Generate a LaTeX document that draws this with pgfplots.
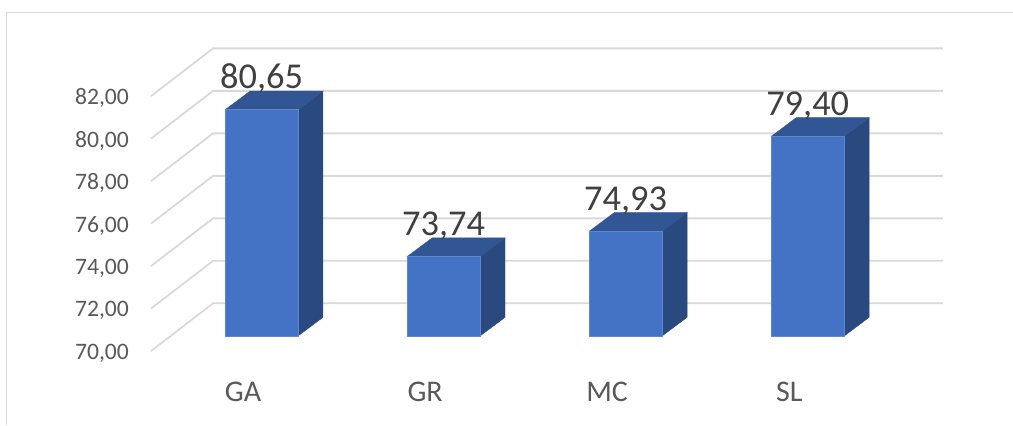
\documentclass[border=0pt]{standalone}
\usepackage{fontspec}
\setmainfont{Carlito}
\usepackage{pgfplots}
\pgfplotsset{compat=1.18}
\definecolor{gridGray}{HTML}{D9D9D9}
\definecolor{axisText}{HTML}{595959}
\definecolor{labelText}{HTML}{404040}
\definecolor{barFront}{HTML}{4472C4}
\definecolor{barSide}{HTML}{2A4A7F}
\definecolor{barTop}{HTML}{325694}
\pgfplotsset{
    wall/.style={draw=gridGray, line width=1.8pt, no marks, forget plot},
    front/.style={draw=barFront!85!white, line width=0.6pt, fill=barFront, no marks, forget plot},
    side/.style={draw=barSide, line width=0.4pt, fill=barSide, no marks, forget plot},
    top/.style={draw=barTop, line width=0.4pt, fill=barTop, no marks, forget plot},
}

\begin{document}
\begin{tikzpicture}
\begin{axis}[
    scale only axis,
    width=1013pt, height=425pt,
    xmin=-1.436, xmax=4.127,
    ymin=65.812, ymax=85.812,
    axis line style={draw=none},
    major tick length=0pt,
    xtick={0,1,2,3},
    xticklabels={GA,GR,MC,SL},
    ytick={70,72,74,76,78,80,82},
    /pgf/number format/.cd, assume math mode=true, use comma, fixed, fixed zerofill, precision=2,
    /pgfplots/.cd,
    xticklabel style={font=\fontsize{30}{36}\selectfont, text=axisText, inner sep=0pt,
        anchor=base, xshift=-18.5pt, yshift=24pt},
    yticklabel style={font=\fontsize{23.6}{28}\selectfont, text=axisText, inner sep=0pt,
        anchor=east, xshift=129pt, yshift=-17pt},
]
% outer frame of the chart area
\addplot[wall] coordinates {(-1.4003,65.812) (-1.4003,85.224) (4.127,85.224)};

% floor diagonal and back wall of each gridline
\addplot[wall] coordinates {(-0.6068,69.294) (-0.2663,71.539) (3.7424,71.539)};
\addplot[wall] coordinates {(-0.6068,71.294) (-0.2663,73.539) (3.7424,73.539)};
\addplot[wall] coordinates {(-0.6068,73.294) (-0.2663,75.539) (3.7424,75.539)};
\addplot[wall] coordinates {(-0.6068,75.294) (-0.2663,77.539) (3.7424,77.539)};
\addplot[wall] coordinates {(-0.6068,77.294) (-0.2663,79.539) (3.7424,79.539)};
\addplot[wall] coordinates {(-0.6068,79.294) (-0.2663,81.539) (3.7424,81.539)};
\addplot[wall] coordinates {(-0.6068,81.294) (-0.2663,83.539) (3.7424,83.539)};

% GA
\addplot[side] coordinates {(0.2,70) (0.3373,70.88) (0.3373,81.53) (0.2,80.65)} -- cycle;
\addplot[top] coordinates {(-0.2,80.65) (0.2,80.65) (0.3373,81.53) (-0.0627,81.53)} -- cycle;
\addplot[front] coordinates {(-0.2,70) (0.2,70) (0.2,80.65) (-0.2,80.65)} -- cycle;
% GR
\addplot[side] coordinates {(1.2,70) (1.3373,70.88) (1.3373,74.62) (1.2,73.74)} -- cycle;
\addplot[top] coordinates {(0.8,73.74) (1.2,73.74) (1.3373,74.62) (0.9373,74.62)} -- cycle;
\addplot[front] coordinates {(0.8,70) (1.2,70) (1.2,73.74) (0.8,73.74)} -- cycle;
% MC
\addplot[side] coordinates {(2.2,70) (2.3373,70.88) (2.3373,75.81) (2.2,74.93)} -- cycle;
\addplot[top] coordinates {(1.8,74.93) (2.2,74.93) (2.3373,75.81) (1.9373,75.81)} -- cycle;
\addplot[front] coordinates {(1.8,70) (2.2,70) (2.2,74.93) (1.8,74.93)} -- cycle;
% SL
\addplot[side] coordinates {(3.2,70) (3.3373,70.88) (3.3373,80.28) (3.2,79.40)} -- cycle;
\addplot[top] coordinates {(2.8,79.40) (3.2,79.40) (3.3373,80.28) (2.9373,80.28)} -- cycle;
\addplot[front] coordinates {(2.8,70) (3.2,70) (3.2,79.40) (2.8,79.40)} -- cycle;

% data labels
\addplot[draw=none, no marks, forget plot,
    nodes near coords,
    point meta=y,
    every node near coord/.append style={font=\fontsize{36.4}{44}\selectfont, text=labelText,
        anchor=base, inner sep=0pt, yshift=21pt},
] coordinates {(0,80.65) (1,73.74) (2,74.93) (3,79.40)};
\end{axis}
\end{tikzpicture}
\end{document}
